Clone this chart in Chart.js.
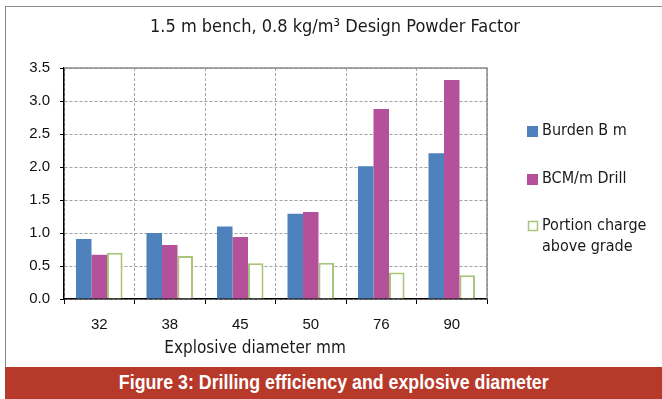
<!DOCTYPE html>
<html>
<head>
<meta charset="utf-8">
<script src="https://cdn.jsdelivr.net/npm/chart.js@4/dist/chart.umd.min.js"></script>
<style>
  html, body { margin: 0; padding: 0; background: #fff; }
  #wrap { position: relative; width: 662px; height: 399px; overflow: hidden; }
  #frame { position: absolute; left: 5px; top: 6px; width: 700px; height: 400px;
           border-left: 1.5px solid #8a8a8a; border-top: 1.5px solid #8a8a8a; box-sizing: border-box; }
  canvas#chart { position: absolute; left: 0; top: 0; }
  #caption { position: absolute; left: 5px; top: 367px; width: 657px; height: 32px;
             background: #B7392A; color: #fff; text-align: center; white-space: nowrap;
             font: bold 20px "Liberation Sans", Arial, sans-serif; line-height: 31px; }
  #caption span { display: inline-block; transform-origin: center center; }
</style>
</head>
<body>
<div id="wrap">
  <div id="frame"></div>
  <canvas id="chart" width="662" height="366"></canvas>
  <div id="caption"><span id="captionText">Figure 3: Drilling efficiency and explosive diameter</span></div>
</div>
<script>
// Explosive diameters (mm) along the x axis
const categories = ['32', '38', '45', '50', '76', '90'];
// Series values
const burden = [0.91, 1.00, 1.10, 1.29, 2.01, 2.21];
const bcmPerDrill = [0.67, 0.82, 0.94, 1.32, 2.88, 3.32];
const chargeAboveGrade = [0.70, 0.65, 0.54, 0.55, 0.40, 0.36];
// Series names
const seriesNames = ['Burden B m', 'BCM/m Drill', ['Portion charge', 'above grade']];
// Value axis
const yMin = 0, yMax = 3.5, yStep = 0.5;

const chartTitle = '1.5 m bench, 0.8 kg/m³ Design Powder Factor';
const xTitle = 'Explosive diameter mm';

const narrow = '"DejaVu Sans Condensed", sans-serif';
const plain = '"Liberation Sans", Arial, sans-serif';

const colors = {
  burden: '#4F81BD',
  bcm: '#B5509B',
  charge: '#A8C57A'
};

// Condense the caption to a narrow bold face
(function () {
  const span = document.getElementById('captionText');
  const w = span.getBoundingClientRect().width;
  span.style.transform = 'scaleX(' + (430 / w).toFixed(3) + ')';
})();

// Title, x-axis caption, legend and plot frame drawn on the canvas
const decorations = {
  id: 'decorations',
  afterDraw(chart) {
    const ctx = chart.ctx;
    const a = chart.chartArea;
    ctx.save();
    // top and right frame of the plot area
    ctx.strokeStyle = '#8c8c8c';
    ctx.lineWidth = 1.5;
    ctx.beginPath();
    ctx.moveTo(a.left, a.top);
    ctx.lineTo(a.right, a.top);
    ctx.lineTo(a.right, a.bottom);
    ctx.stroke();

    ctx.fillStyle = '#1a1a1a';
    ctx.textAlign = 'center';
    ctx.textBaseline = 'middle';
    ctx.font = '18px ' + narrow;
    ctx.fillText(chartTitle, 335, 27);

    ctx.font = '17px ' + narrow;
    ctx.fillText(xTitle, 255, 349);

    // legend
    const ds = chart.data.datasets;
    const rows = [131, 179, 226];
    ctx.textAlign = 'left';
    ctx.font = '16px ' + narrow;
    ds.forEach((d, i) => {
      const y = rows[i];
      if (d.borderWidth > 1) {
        ctx.fillStyle = '#fff';
        ctx.fillRect(528, y - 5, 10, 10);
        ctx.strokeStyle = d.borderColor;
        ctx.lineWidth = 1.5;
        ctx.strokeRect(528.5, y - 4.5, 9, 9);
      } else {
        ctx.fillStyle = d.backgroundColor;
        ctx.fillRect(527, y - 5, 11, 11);
      }
      ctx.fillStyle = '#1a1a1a';
      const lines = Array.isArray(d.label) ? d.label : [d.label];
      lines.forEach((t, k) => ctx.fillText(t, 542, y + k * 21));
    });
    ctx.restore();
  }
};

new Chart(document.getElementById('chart'), {
  type: 'bar',
  data: {
    labels: categories,
    datasets: [
      { label: seriesNames[0], data: burden, backgroundColor: colors.burden,
        borderWidth: 0, categoryPercentage: 0.66, barPercentage: 1.0 },
      { label: seriesNames[1], data: bcmPerDrill, backgroundColor: colors.bcm,
        borderWidth: 0, categoryPercentage: 0.66, barPercentage: 1.0 },
      { label: seriesNames[2], data: chargeAboveGrade, backgroundColor: '#ffffff',
        borderColor: colors.charge, borderWidth: 2, borderSkipped: 'bottom',
        categoryPercentage: 0.66, barPercentage: 1.0 }
    ]
  },
  options: {
    responsive: false,
    animation: false,
    layout: { padding: { left: 0, right: 175, top: 68, bottom: 0 } },
    plugins: {
      legend: { display: false },
      title: { display: false },
      tooltip: { enabled: false }
    },
    scales: {
      x: {
        afterFit(scale) { scale.height = 67; },
        grid: { color: '#a6a6a6', lineWidth: 1, offset: true, tickColor: '#000',
                tickLength: 5, tickBorderDash: [] },
        border: { color: '#000', width: 1.5, dash: [3, 2] },
        ticks: { color: '#111', font: { family: plain, size: 15 }, padding: 12 }
      },
      y: {
        min: yMin, max: yMax,
        afterFit(scale) { scale.width = 64; },
        grid: { color: '#a0a0a0', lineWidth: 1, tickColor: '#000', tickLength: 4,
                tickBorderDash: [] },
        border: { color: '#000', width: 1.5, dash: [3, 2] },
        ticks: { stepSize: yStep, color: '#111', font: { family: plain, size: 15 },
                 padding: 10, callback: v => v.toFixed(1) }
      }
    }
  },
  plugins: [decorations]
});
</script>
</body>
</html>
